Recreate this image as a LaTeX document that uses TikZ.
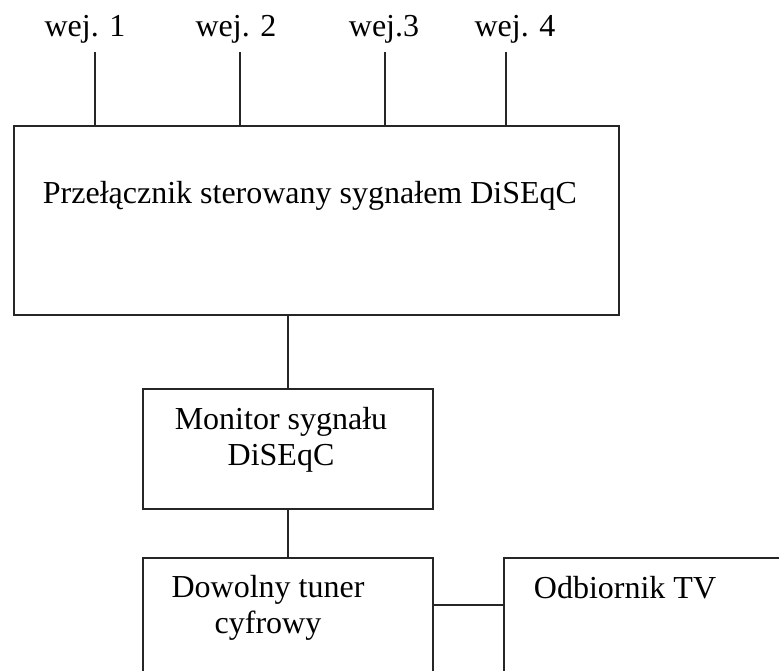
\documentclass[tikz,border=0pt]{standalone}
\usepackage{fontspec}
\setmainfont{Liberation Serif}
\usepackage{tikz}
\usetikzlibrary{positioning}

\begin{document}
\begin{tikzpicture}[x=1pt, y=-1pt, line width=1.8pt, draw=black!85]
\tikzstyle{box} = [draw=black!85, rectangle, anchor=north west, inner sep=0pt]
\tikzstyle{txt} = [anchor=base, inner sep=0pt, font=\fontsize{32}{36}\selectfont]
\clip (0,0) rectangle (779,670);

% inputs
\node[txt] (in1) at (85,36) {wej. 1};
\node[txt] (in2) at (236,36) {wej. 2};
\node[txt] (in3) at (384,36) {wej.3};
\node[txt] (in4) at (515,36) {wej. 4};
\coordinate (p1) at (95,52);
\coordinate (p2) at (240,52);
\coordinate (p3) at (385,52);
\coordinate (p4) at (506,52);

% boxes
\node[box, minimum width=605pt, minimum height=189pt] (switch) at (13,125) {};
\node[txt, anchor=base west] (switchtxt) at (42,203) {Przełącznik sterowany sygnałem DiSEqC};
\node[box, minimum width=290pt, minimum height=120pt] (mon) at (142,388) {};
\node[txt, align=center] (montxt) at (281,465) {Monitor sygnału\\DiSEqC};
\node[box, minimum width=290pt, minimum height=160pt] (tuner) at (142,557) {};
\node[txt, align=center] (tunertxt) at (268,633) {Dowolny tuner\\cyfrowy};
\node[box, minimum width=400pt, minimum height=160pt] (tv) at (503,557) {};
\node[txt, anchor=base west] (tvtxt) at (533,598) {Odbiornik TV};

% wires
\foreach \i in {1,...,4}
	\draw (p\i) -- (p\i |- switch.north);
\draw (mon.north) -- (mon.north |- switch.south);
\draw (mon.south) -- (tuner.north);
\draw ([yshift=-48pt]tuner.north east) -- ([yshift=-48pt]tv.north west);
\end{tikzpicture}
\end{document}
